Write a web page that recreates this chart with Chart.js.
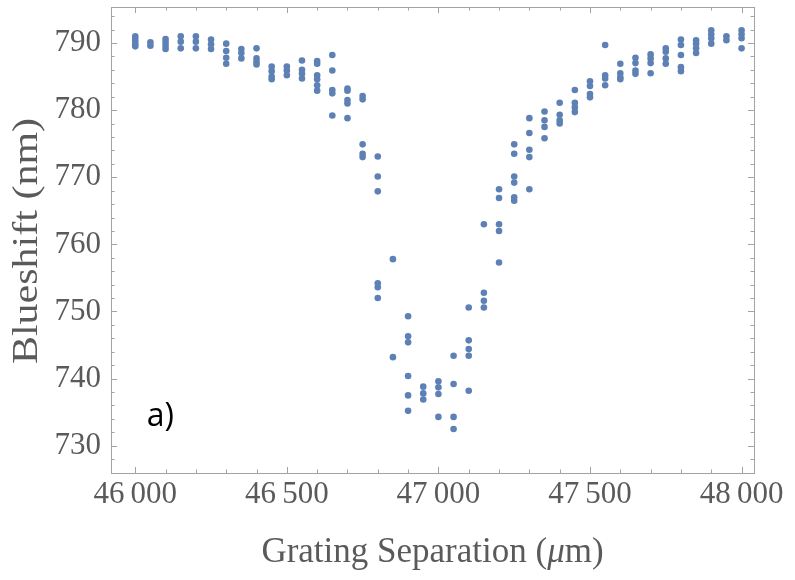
<!DOCTYPE html>
<html>
<head>
<meta charset="utf-8">
<script src="https://cdn.jsdelivr.net/npm/chart.js@4"></script>
<style>
html,body{margin:0;padding:0;background:#fff;}
#wrap{width:795px;height:580px;position:relative;}
</style>
</head>
<body>
<div id="wrap"><canvas id="c" width="795" height="580"></canvas></div>
<script>
const separations = [46000,46050,46100,46150,46200,46250,46300,46350,46400,46450,46500,46550,46600,46650,46700,46750,46800,46850,46900,46950,47000,47050,47100,47150,47200,47250,47300,47350,47400,47450,47500,47550,47600,47650,47700,47750,47800,47850,47900,47950,48000];
const blueshifts = [
  [791.0,790.6,790.2,789.8,789.5],
  [790.1,789.6],
  [790.6,790.1,789.6,789.1],
  [791.0,790.2,789.2],
  [791.0,790.2,789.2],
  [790.5,789.8,789.1],
  [789.9,788.8,787.8,786.9],
  [789.1,788.5,787.7],
  [789.2,787.7,787.2,786.8],
  [786.5,785.8,785.0,784.6],
  [786.5,785.9,785.2],
  [787.4,786.0,785.4,784.7],
  [787.3,786.9,785.2,784.6,783.7,782.9],
  [788.2,785.9,783.0,782.5,779.2],
  [783.2,782.9,781.5,781.0,778.8],
  [782.1,781.6,774.9,773.5,773.0],
  [773.1,770.1,767.9,754.2,753.6,752.0],
  [757.8,743.2],
  [749.3,746.3,745.4,740.4,737.5,735.2],
  [738.8,737.8,736.9],
  [739.6,738.7,737.7,734.3],
  [743.4,739.2,734.3,732.5],
  [750.6,745.7,744.4,743.4,738.2],
  [763.0,752.8,751.6,750.6],
  [768.2,766.9,763.0,762.0,757.3],
  [774.9,773.5,770.1,769.2,767.0,766.5],
  [778.8,776.6,774.1,773.0,768.2],
  [779.8,778.5,777.5,775.8],
  [781.1,779.3,778.5,778.0],
  [783.0,781.1,780.4,779.7],
  [784.3,783.6,782.4,781.9],
  [789.7,785.2,784.7,783.7],
  [786.9,785.5,784.9,784.6],
  [787.8,787.0,785.9,785.4],
  [788.3,787.7,787.0,785.5],
  [789.2,788.7,787.7,786.9],
  [790.5,789.7,788.2,786.4,785.8],
  [790.4,789.9,789.2,788.5],
  [791.9,791.3,790.7,789.9],
  [791.0,790.4],
  [791.9,791.3,790.7,789.2]
];
const xTickValues = [46000,46500,47000,47500,48000];
const yTickValues = [730,740,750,760,770,780,790];
const xTitleParts = ['Grating Separation (', '\u03bc', 'm)'];
const yTitle = 'Blueshift (nm)';
const panelLabel = 'a)';

const points = [];
separations.forEach((x, i) => blueshifts[i].forEach(y => points.push({x, y})));

const labelColor = '#5a5a5a';
const frameColor = '#a3a3a3';
const serif = '"Liberation Serif", serif';

const framePlugin = {
  id: 'frame',
  afterDraw(chart) {
    const {ctx, chartArea: a, scales: {x, y}} = chart;
    ctx.save();
    ctx.strokeStyle = frameColor;
    ctx.lineWidth = 1;
    ctx.strokeRect(Math.round(a.left)+0.5, Math.round(a.top)+0.5, Math.round(a.right-a.left), Math.round(a.bottom-a.top));
    ctx.beginPath();
    for (let v = 46000; v <= 48000; v += 100) {
      const px = Math.round(x.getPixelForValue(v)) + 0.5;
      const len = (v % 500 === 0) ? 6 : 3.5;
      ctx.moveTo(px, a.bottom); ctx.lineTo(px, a.bottom - len);
      ctx.moveTo(px, a.top); ctx.lineTo(px, a.top + len);
    }
    for (let v = 728; v <= 794; v += 2) {
      const py = Math.round(y.getPixelForValue(v)) + 0.5;
      const len = (v % 10 === 0) ? 6 : 3.5;
      ctx.moveTo(a.left, py); ctx.lineTo(a.left + len, py);
      ctx.moveTo(a.right, py); ctx.lineTo(a.right - len, py);
    }
    ctx.stroke();

    // x title with italic mu
    ctx.fillStyle = labelColor;
    ctx.textBaseline = 'middle';
    ctx.textAlign = 'left';
    const fN = '35px ' + serif, fI = 'italic 35px ' + serif;
    ctx.font = fN; const w0 = ctx.measureText(xTitleParts[0]).width;
    ctx.font = fI; const w1 = ctx.measureText(xTitleParts[1]).width;
    ctx.font = fN; const w2 = ctx.measureText(xTitleParts[2]).width;
    let sx = (a.left + a.right) / 2 - (w0 + w1 + w2) / 2;
    const ty = 553;
    ctx.font = fN; ctx.fillText(xTitleParts[0], sx, ty); sx += w0;
    ctx.font = fI; ctx.fillText(xTitleParts[1], sx, ty); sx += w1;
    ctx.font = fN; ctx.fillText(xTitleParts[2], sx, ty);

    // y title (stretched along its length like the reference)
    ctx.save();
    ctx.translate(28, (a.top + a.bottom) / 2 + 1);
    ctx.rotate(-Math.PI / 2);
    ctx.scale(1.2, 1);
    ctx.textAlign = 'center';
    ctx.font = fN;
    ctx.fillText(yTitle, 0, 0);
    ctx.restore();

    ctx.fillStyle = '#000';
    ctx.font = '32px "Open Sans", Lato, sans-serif';
    ctx.textAlign = 'center';
    ctx.textBaseline = 'alphabetic';
    ctx.fillText(panelLabel, x.getPixelForValue(46083), y.getPixelForValue(733));
    ctx.restore();
  }
};

new Chart(document.getElementById('c'), {
  type: 'scatter',
  data: {
    datasets: [{
      data: points,
      backgroundColor: 'rgb(94,129,181)',
      borderWidth: 0,
      pointRadius: 3.3,
      pointHoverRadius: 3.3
    }]
  },
  options: {
    responsive: false,
    animation: false,
    events: [],
    layout: {padding: {left: 0, top: 7, right: 41, bottom: 0}},
    plugins: {legend: {display: false}, tooltip: {enabled: false}},
    scales: {
      x: {
        type: 'linear',
        min: 45920,
        max: 48041,
        grid: {display: false, drawTicks: false},
        border: {display: false},
        afterBuildTicks: s => { s.ticks = xTickValues.map(v => ({value: v})); },
        afterFit: s => { s.height = 107; s.paddingLeft = 0; s.paddingRight = 0; },
        ticks: {
          padding: 3,
          color: labelColor,
          font: {family: serif, size: 31},
          maxRotation: 0,
          callback: v => String(v).replace(/(\d{2})(\d{3})$/, '$1\u2009$2')
        },
        title: {display: false}
      },
      y: {
        type: 'linear',
        min: 725.94,
        max: 795.36,
        grid: {display: false, drawTicks: false},
        border: {display: false},
        afterBuildTicks: s => { s.ticks = yTickValues.map(v => ({value: v})); },
        afterFit: s => { s.width = 111; s.paddingTop = 0; s.paddingBottom = 0; },
        ticks: {
          padding: 10,
          color: labelColor,
          font: {family: serif, size: 31}
        },
        title: {display: false}
      }
    }
  },
  plugins: [framePlugin]
});
</script>
</body>
</html>
